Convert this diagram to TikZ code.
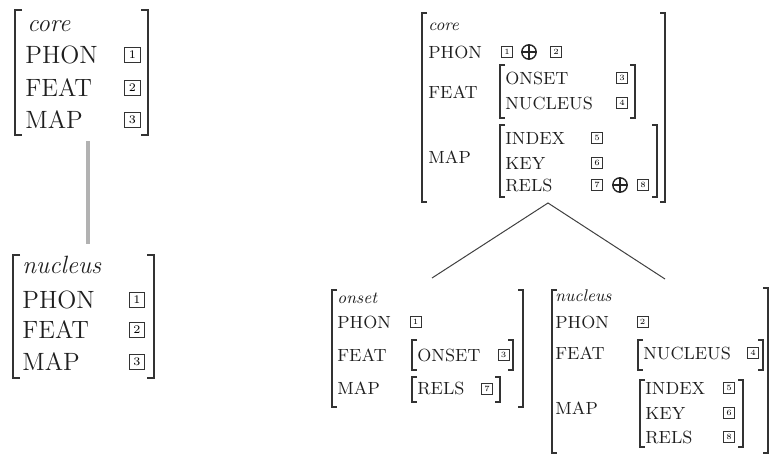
\documentclass[tikz,border=0pt]{standalone}
\usetikzlibrary{calc}
\begin{document}
% AVM bracket: style, x, top, bottom, signed serif length
\newcommand\avmbrk[5]{\draw[#1] (#2+#5,#3) -- (#2,#3) -- (#2,#4) -- (#2+#5,#4);}
\begin{tikzpicture}[x=0.5pt,y=-0.5pt,
  bigt/.style={font=\fontsize{12.5}{14}\selectfont, inner sep=0pt, anchor=base west, text=black!88},
  bigi/.style={bigt, font=\fontsize{12.5}{14}\selectfont\itshape},
  smt/.style={font=\fontsize{8.8}{10}\selectfont, inner sep=0pt, anchor=base west, text=black!88},
  smi/.style={smt, font=\fontsize{8.5}{10}\selectfont\itshape},
  bigtag/.style={draw=black!80, line width=0.55pt, minimum size=7.6pt, inner sep=0pt, font=\fontsize{5.8}{6}\selectfont},
  smtag/.style={draw=black!80, line width=0.45pt, minimum size=5.5pt, inner sep=0pt, font=\fontsize{4}{4}\selectfont},
  oplus/.style={circle, draw=black!85, line width=0.7pt, minimum size=7.2pt, inner sep=0pt,
    path picture={\draw[black!85, line width=0.7pt]
      (path picture bounding box.north) -- (path picture bounding box.south)
      (path picture bounding box.west) -- (path picture bounding box.east);}},
  bigbrk/.style={line width=1pt, draw=black!80},
  smbrk/.style={line width=0.7pt, draw=black!80},
  branch/.style={line width=0.5pt, draw=black!75},
  stem/.style={line width=2pt, draw=black!30}]
\useasboundingbox (0,0) rectangle (770,456);

% ---------- left: core ----------
\avmbrk{bigbrk}{15}{10}{135}{7}
\avmbrk{bigbrk}{148}{10}{135}{-7}
\node[bigi] (cL-type) at (27,31) {core};
\node[bigt] (cL-phon) at (25,63) {PHON};
\node[bigt] (cL-feat) at (25,96) {FEAT};
\node[bigt] (cL-map)  at (25,128) {MAP};
\node[bigtag] (cL-t1) at (132.5,55) {1};
\node[bigtag] (cL-t2) at (132.5,88) {2};
\node[bigtag] (cL-t3) at (132.5,120) {3};

% ---------- left: nucleus ----------
\avmbrk{bigbrk}{13}{255}{378}{7}
\avmbrk{bigbrk}{154}{255}{378}{-7}
\node[bigi] (nL-type) at (22,273) {nucleus};
\node[bigt] (nL-phon) at (22,308) {PHON};
\node[bigt] (nL-feat) at (22,338) {FEAT};
\node[bigt] (nL-map)  at (22,370) {MAP};
\node[bigtag] (nL-t1) at (137,300) {1};
\node[bigtag] (nL-t2) at (137,330) {2};
\node[bigtag] (nL-t3) at (137,362) {3};

\coordinate (cL-foot) at (88,141);
\coordinate (nL-head) at (88,244);
\draw[stem] (cL-foot) -- (nL-head);

% ---------- right: core ----------
\avmbrk{smbrk}{422}{13}{202}{5}
\avmbrk{smbrk}{665}{13}{202}{-5}
\node[smi] (cR-type) at (428,30) {core};
\node[smt] (cR-phon) at (428,58) {PHON};
\node[smtag] (cR-p1) at (507,52) {1};
\node[oplus] (cR-pplus) at (529,52) {};
\node[smtag] (cR-p2) at (556,52) {2};
\node[smt] (cR-feat) at (428,98) {FEAT};
\avmbrk{smbrk}{500}{65}{118}{5}
\avmbrk{smbrk}{635}{65}{118}{-5}
\node[smt] (cR-onset) at (505,84) {ONSET};
\node[smtag] (cR-t3) at (622,78) {3};
\node[smt] (cR-nuc) at (505,109) {NUCLEUS};
\node[smtag] (cR-t4) at (622,103) {4};
\node[smt] (cR-map) at (428,163) {MAP};
\avmbrk{smbrk}{500}{125}{197}{5}
\avmbrk{smbrk}{657}{125}{197}{-5}
\node[smt] (cR-index) at (505,144) {INDEX};
\node[smtag] (cR-t5) at (597,138) {5};
\node[smt] (cR-key) at (505,169) {KEY};
\node[smtag] (cR-t6) at (597,163) {6};
\node[smt] (cR-rels) at (505,191) {RELS};
\node[smtag] (cR-t7) at (597,185) {7};
\node[oplus] (cR-rplus) at (620,185) {};
\node[smtag] (cR-t8) at (643,185) {8};

% ---------- right: onset ----------
\avmbrk{smbrk}{332}{290}{407}{5}
\avmbrk{smbrk}{523}{290}{407}{-5}
\node[smi] (on-type) at (337,303) {onset};
\node[smt] (on-phon) at (337,328) {PHON};
\node[smtag] (on-t1) at (415.5,322) {1};
\node[smt] (on-feat) at (337,361) {FEAT};
\avmbrk{smbrk}{412}{340}{370}{5}
\avmbrk{smbrk}{513}{340}{370}{-5}
\node[smt] (on-onset) at (417,361) {ONSET};
\node[smtag] (on-t3) at (503.5,355) {3};
\node[smt] (on-map) at (337,394) {MAP};
\avmbrk{smbrk}{412}{377}{402}{5}
\avmbrk{smbrk}{500}{377}{402}{-5}
\node[smt] (on-rels) at (417,394) {RELS};
\node[smtag] (on-t7) at (487,389) {7};

% ---------- right: nucleus ----------
\avmbrk{smbrk}{552}{290}{453}{5}
\avmbrk{smbrk}{768}{288}{453}{-5}
\node[smi] (nR-type) at (555,301) {nucleus};
\node[smt] (nR-phon) at (555,328) {PHON};
\node[smtag] (nR-t2) at (642.5,322) {2};
\node[smt] (nR-feat) at (555,359) {FEAT};
\avmbrk{smbrk}{638}{340}{370}{5}
\avmbrk{smbrk}{763}{340}{370}{-5}
\node[smt] (nR-nuc) at (643,359) {NUCLEUS};
\node[smtag] (nR-t4) at (753,353) {4};
\node[smt] (nR-map) at (555,414) {MAP};
\avmbrk{smbrk}{640}{380}{447}{5}
\avmbrk{smbrk}{743}{380}{447}{-5}
\node[smt] (nR-index) at (645,394) {INDEX};
\node[smtag] (nR-t5) at (729,388) {5};
\node[smt] (nR-key) at (645,419) {KEY};
\node[smtag] (nR-t6) at (729,413) {6};
\node[smt] (nR-rels) at (645,443) {RELS};
\node[smtag] (nR-t8) at (729,437) {8};

% ---------- tree branches ----------
\coordinate (cR-foot) at (548,203);
\coordinate (on-head) at (432,278);
\coordinate (nR-head) at (665,279);
\draw[branch] (on-head) -- (cR-foot) -- (nR-head);
\end{tikzpicture}
\end{document}
